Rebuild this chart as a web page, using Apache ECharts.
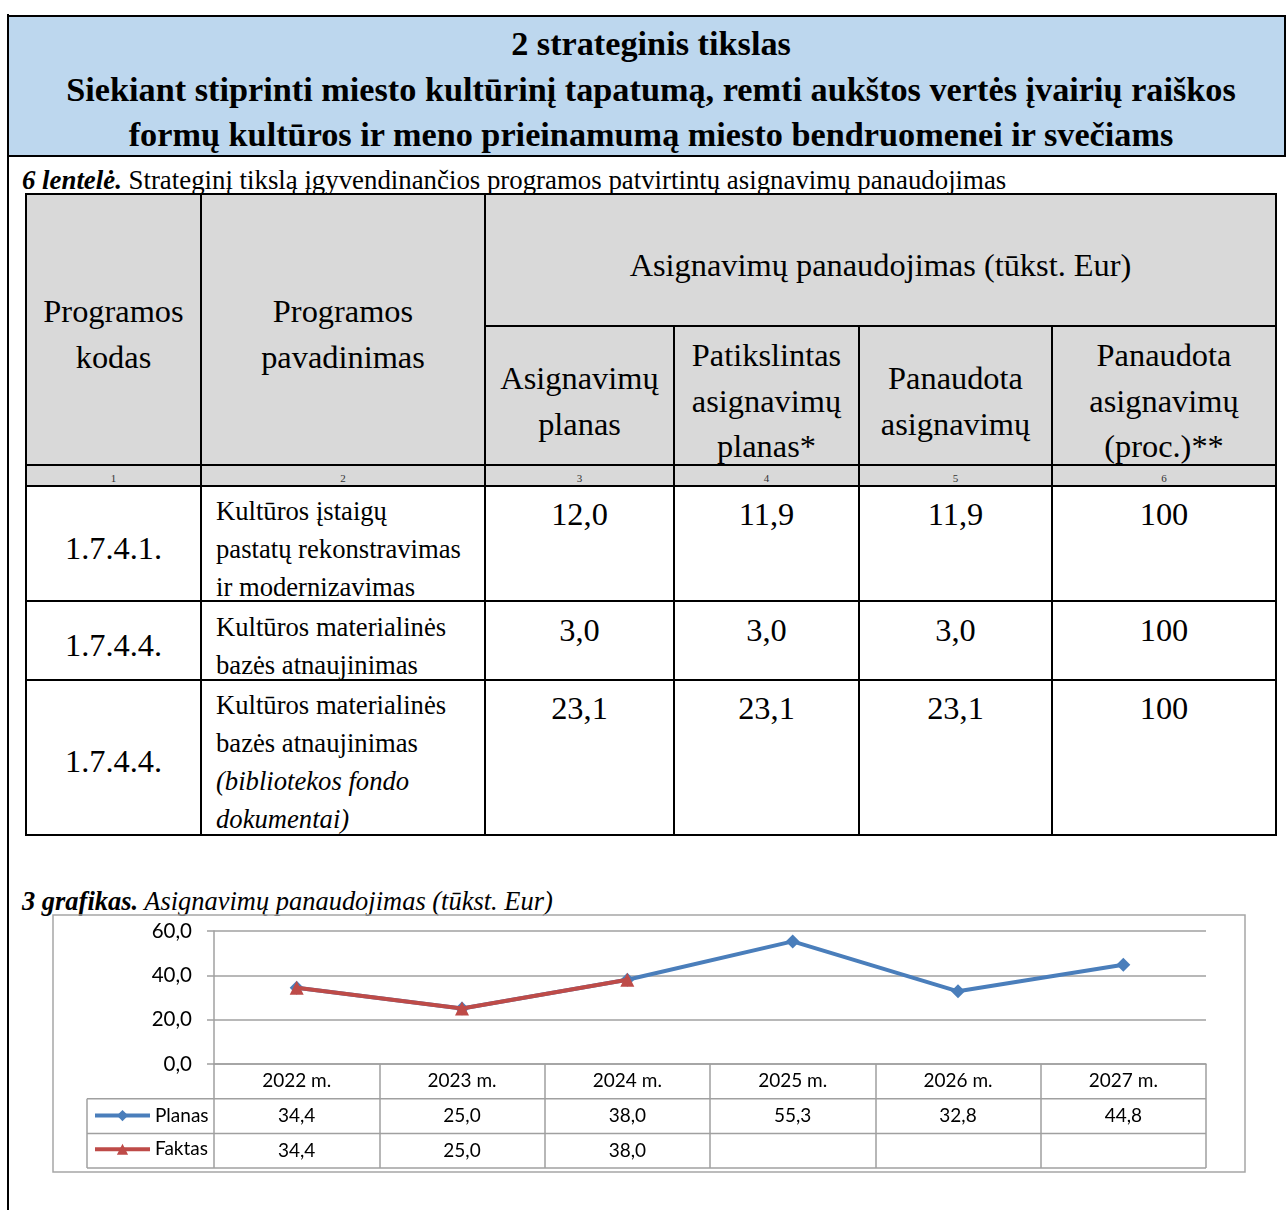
<!DOCTYPE html>
<html><head><meta charset="utf-8">
<script src="https://cdn.jsdelivr.net/npm/echarts@6/dist/echarts.min.js"></script>
<style>
html,body{margin:0;padding:0;background:#fff;}
body{width:1286px;height:1210px;position:relative;overflow:hidden;font-family:"Liberation Serif","Times New Roman",serif;color:#000;}
.t{position:absolute;white-space:nowrap;}
</style></head><body>
<div id="chart" style="position:absolute;left:0;top:890px;width:1286px;height:320px;z-index:2;"></div>
<script>
// ---------------- data ----------------
const headerLines = [
  '2 strateginis tikslas',
  'Siekiant stiprinti miesto kultūrinį tapatumą, remti aukštos vertės įvairių raiškos',
  'formų kultūros ir meno prieinamumą miesto bendruomenei ir svečiams'
];
const tableCaptionBold = '6 lentelė.';
const tableCaptionText = ' Strateginį tikslą įgyvendinančios programos patvirtintų asignavimų panaudojimas';
const colHeadCode = ['Programos', 'kodas'];
const colHeadName = ['Programos', 'pavadinimas'];
const colHeadGroup = 'Asignavimų panaudojimas (tūkst. Eur)';
const subHeads = [
  ['Asignavimų', 'planas'],
  ['Patikslintas', 'asignavimų', 'planas*'],
  ['Panaudota', 'asignavimų'],
  ['Panaudota', 'asignavimų', '(proc.)**']
];
const colNumbers = ['1', '2', '3', '4', '5', '6'];
const programCodes = ['1.7.4.1.', '1.7.4.4.', '1.7.4.4.'];
const programNames = [
  ['Kultūros įstaigų', 'pastatų rekonstravimas', 'ir modernizavimas'],
  ['Kultūros materialinės', 'bazės atnaujinimas'],
  ['Kultūros materialinės', 'bazės atnaujinimas', '(bibliotekos fondo', 'dokumentai)']
];
const programNamesItalicFrom = [99, 99, 2];
const planAppropriation = [12.0, 3.0, 23.1];
const revisedPlan = [11.9, 3.0, 23.1];
const usedAppropriation = [11.9, 3.0, 23.1];
const usedPercent = [100, 100, 100];

const chartCaptionBold = '3 grafikas.';
const chartCaptionText = ' Asignavimų panaudojimas (tūkst. Eur)';
const chartYears = ['2022 m.', '2023 m.', '2024 m.', '2025 m.', '2026 m.', '2027 m.'];
const planasValues = [34.4, 25.0, 38.0, 55.3, 32.8, 44.8];
const faktasValues = [34.4, 25.0, 38.0, null, null, null];
const seriesNames = ['Planas', 'Faktas'];
const yTicks = { min: 0, max: 60, interval: 20 };

// ---------------- helpers ----------------
const fmt1 = v => (v == null ? '' : v.toFixed(1).replace('.', ','));
function measure(html, fs, opts) {
  const s = document.createElement('span');
  s.style.cssText = 'position:absolute;visibility:hidden;white-space:nowrap;left:-5000px;top:0;';
  s.style.fontSize = fs + 'px';
  if (opts && opts.bold) s.style.fontWeight = 'bold';
  if (opts && opts.italic) s.style.fontStyle = 'italic';
  s.innerHTML = html;
  document.body.appendChild(s);
  const w = s.getBoundingClientRect().width;
  s.remove();
  return w;
}
function fitSize(html, target, opts) { return 30 * target / measure(html, 30, opts); }
function addText(html, x, y, fs, opts = {}) {
  const d = document.createElement('div');
  d.className = 't';
  d.style.fontSize = fs + 'px';
  d.style.lineHeight = fs + 'px';
  if (opts.bold) d.style.fontWeight = 'bold';
  if (opts.italic) d.style.fontStyle = 'italic';
  if (opts.color) d.style.color = opts.color;
  d.innerHTML = html;
  d.style.top = (y + 3 - 0.6075 * fs) + 'px';
  document.body.appendChild(d);
  const w = d.getBoundingClientRect().width;
  d.style.left = ((opts.align === 'left') ? x : x - w / 2) + 'px';
  return d;
}
function rect(x, y, w, h, css) {
  const d = document.createElement('div');
  d.style.cssText = 'position:absolute;left:' + x + 'px;top:' + y + 'px;width:' + w + 'px;height:' + h + 'px;' + (css || '');
  document.body.appendChild(d);
  return d;
}
const LW = 2.2;
function hline(x1, x2, y) { rect(x1 - LW / 2, y - LW / 2, x2 - x1 + LW, LW, 'background:#000;'); }
function vline(x, y1, y2) { rect(x - LW / 2, y1 - LW / 2, LW, y2 - y1 + LW, 'background:#000;'); }

// ---------------- header ----------------
rect(7, 15, 1279, 142, 'background:#BDD7EE;border:2px solid #000;box-sizing:border-box;');
vline(8, 15, 1215);
const hfs = fitSize(headerLines[1], 1170, { bold: true });
const headerY = [44, 90, 135];
headerLines.forEach((l, i) => addText(l, 651, headerY[i], hfs, { bold: true }));

// ---------------- table caption ----------------
const capHtml = '<b><i>' + tableCaptionBold + '</i></b>' + tableCaptionText;
const cfs = fitSize(capHtml, 985, {});
addText(capHtml, 22, 180, cfs, { align: 'left' });

// ---------------- table ----------------
const colX = [26, 201, 485, 674, 859, 1052, 1276];
const rowY = [194, 326, 465, 486, 601, 680, 835];
const colC = colX.slice(0, 6).map((x, i) => (x + colX[i + 1]) / 2);
rect(colX[0], rowY[0], colX[6] - colX[0], rowY[3] - rowY[0], 'background:#D9D9D9;');
hline(colX[0], colX[6], rowY[0]);
hline(colX[2], colX[6], rowY[1]);
[2, 3, 4, 5, 6].forEach(r => hline(colX[0], colX[6], rowY[r]));
vline(colX[0], rowY[0], rowY[6]);
vline(colX[1], rowY[0], rowY[6]);
vline(colX[2], rowY[0], rowY[6]);
[3, 4, 5].forEach(c => vline(colX[c], rowY[1], rowY[6]));
vline(colX[6], rowY[0], rowY[6]);

const tfs = fitSize(colHeadGroup, 502, {});
const nfs = fitSize(programNames[0][1], 245, {});
const LH = 45.5;
addText(colHeadGroup, (colX[2] + colX[6]) / 2, 266, tfs);
colHeadCode.forEach((l, i) => addText(l, colC[0], 312 + i * LH, tfs));
colHeadName.forEach((l, i) => addText(l, colC[1], 312 + i * LH, tfs));
subHeads.forEach((lines, c) => {
  const n = lines.length;
  const start = n === 2 ? 379 : 356;
  lines.forEach((l, i) => addText(l, colC[2 + c], start + i * LH, tfs));
});
colNumbers.forEach((n, i) => addText(n, colC[i], 477, 11, { color: '#333' }));

const codeY = [549, 646, 762];
const nameY0 = [511, 627, 705];
const valY = [515, 631, 709];
const NLH = 38;
programCodes.forEach((c, r) => {
  addText(c, colC[0], codeY[r], tfs);
  programNames[r].forEach((l, i) => addText(l, 216, nameY0[r] + i * NLH, nfs, { align: 'left', italic: i >= programNamesItalicFrom[r] }));
  addText(fmt1(planAppropriation[r]), colC[2], valY[r], tfs);
  addText(fmt1(revisedPlan[r]), colC[3], valY[r], tfs);
  addText(fmt1(usedAppropriation[r]), colC[4], valY[r], tfs);
  addText(String(usedPercent[r]), colC[5], valY[r], tfs);
});

// ---------------- chart caption ----------------
const ccHtml = '<b>' + chartCaptionBold + '</b>' + chartCaptionText;
const ccfs = fitSize(ccHtml, 531, { italic: true });
addText(ccHtml, 22, 901, ccfs, { align: 'left', italic: true });

// ---------------- chart (ECharts) ----------------
const OFF = 890;
const G = { left: 214, right: 1206, top: 931 - OFF, bottom: 1064 - OFF };
const ROW_H = 34.7;
const GRAY = '#A0A0A0';
const FONT = 'Lato, "Liberation Sans", sans-serif';
const chart = echarts.init(document.getElementById('chart'), null, { renderer: 'canvas' });
const tblTop = G.bottom;
const tblRows = [tblTop + ROW_H, tblTop + 2 * ROW_H, tblTop + 3 * ROW_H];
const legendLeft = 87;
const LEG_ITEM_H = 20;   // rendered legend item height (text-driven)
chart.setOption({
  animation: false,
  backgroundColor: 'transparent',
  textStyle: { fontFamily: FONT },
  grid: { left: G.left, width: G.right - G.left, top: G.top, height: G.bottom - G.top, containLabel: false },
  legend: {
    orient: 'vertical', left: legendLeft + 6, top: tblTop + ROW_H * 1.5 - LEG_ITEM_H / 2,
    itemWidth: 55, itemHeight: 14, itemGap: ROW_H - LEG_ITEM_H, padding: 0,
    lineStyle: { width: 4 },
    textStyle: { fontSize: 19, color: '#000', fontFamily: FONT },
    data: seriesNames
  },
  xAxis: {
    type: 'category', data: chartYears, boundaryGap: true,
    axisLine: { show: true, lineStyle: { color: GRAY, width: 1.5 } },
    axisTick: { show: true, interval: 0, length: 3 * ROW_H, lineStyle: { color: GRAY, width: 1.5 } },
    axisLabel: {
      interval: 0, margin: 0, color: '#000', fontSize: 19, fontFamily: FONT,
      lineHeight: ROW_H, verticalAlign: 'top',
      formatter: (v, i) => v + '\n' + fmt1(planasValues[i]) + '\n' + (faktasValues[i] == null ? ' ' : fmt1(faktasValues[i]))
    },
    splitLine: { show: false }
  },
  yAxis: {
    type: 'value', min: yTicks.min, max: yTicks.max, interval: yTicks.interval,
    axisLine: { show: true, lineStyle: { color: GRAY, width: 1.5 } },
    axisTick: { show: true, length: 7, lineStyle: { color: GRAY, width: 1.5 } },
    axisLabel: { color: '#000', fontSize: 20.5, fontFamily: FONT, margin: 22, formatter: v => fmt1(v) },
    splitLine: { show: true, lineStyle: { color: GRAY, width: 1.5 } }
  },
  graphic: [
    { type: 'rect', shape: { x: 53, y: 915 - OFF, width: 1192, height: 257 }, style: { fill: 'none', stroke: '#A6A6A6', lineWidth: 1.5 }, silent: true },
    { type: 'line', shape: { x1: legendLeft, y1: tblRows[0], x2: G.right, y2: tblRows[0] }, style: { stroke: GRAY, lineWidth: 1.5 } },
    { type: 'line', shape: { x1: legendLeft, y1: tblRows[1], x2: G.right, y2: tblRows[1] }, style: { stroke: GRAY, lineWidth: 1.5 } },
    { type: 'line', shape: { x1: legendLeft, y1: tblRows[2], x2: G.right, y2: tblRows[2] }, style: { stroke: GRAY, lineWidth: 1.5 } },
    { type: 'line', shape: { x1: legendLeft, y1: tblRows[0], x2: legendLeft, y2: tblRows[2] }, style: { stroke: GRAY, lineWidth: 1.5 } }
  ],
  series: [
    { name: seriesNames[0], type: 'line', data: planasValues, color: '#4A7EBB',
      lineStyle: { width: 4 }, symbol: 'diamond', symbolSize: 14, itemStyle: { color: '#4A7EBB' }, z: 2 },
    { name: seriesNames[1], type: 'line', data: faktasValues, color: '#BE4B48',
      lineStyle: { width: 4 }, symbol: 'triangle', symbolSize: 14, itemStyle: { color: '#BE4B48' }, z: 3 }
  ]
});
</script>
</body></html>
